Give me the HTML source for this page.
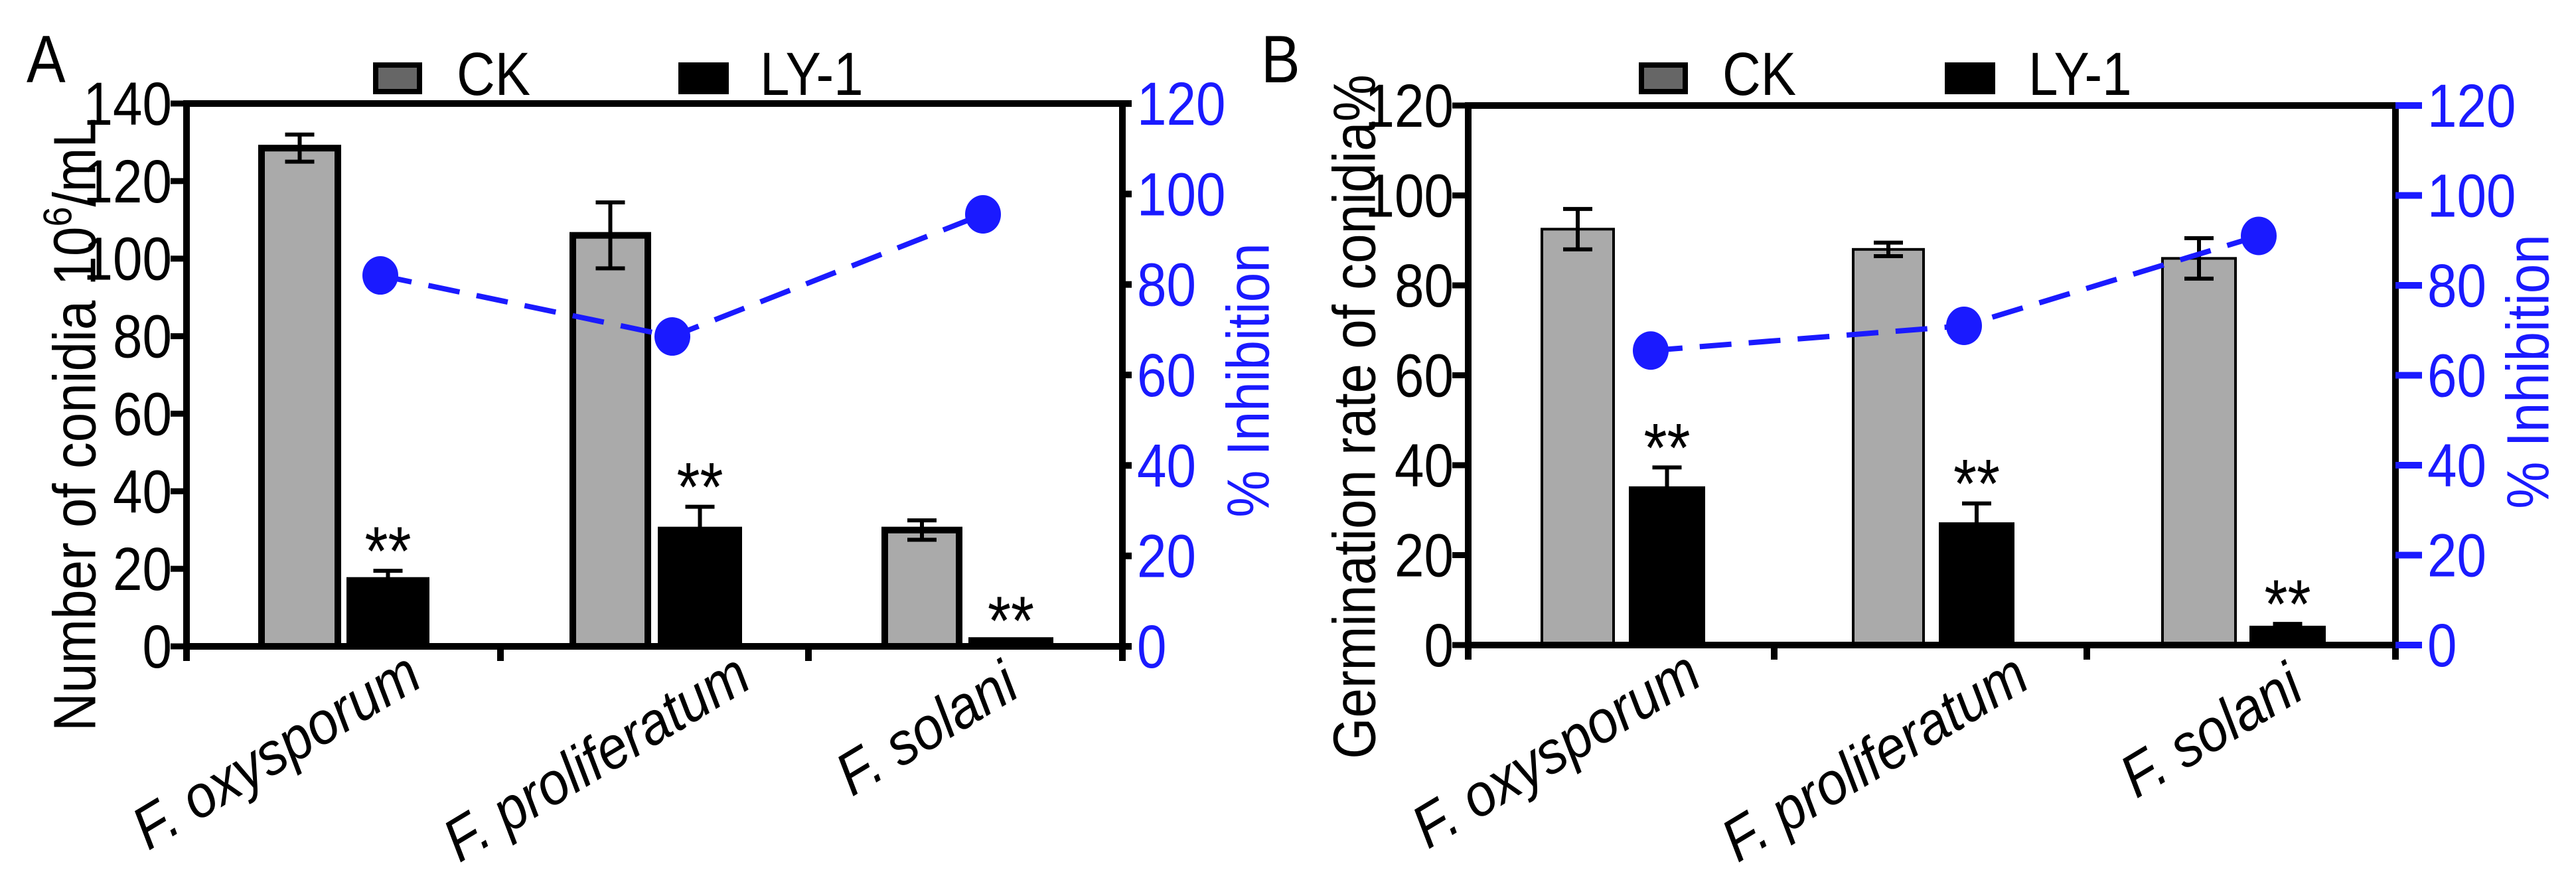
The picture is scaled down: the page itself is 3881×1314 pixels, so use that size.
<!DOCTYPE html>
<html><head><meta charset="utf-8"><style>
html,body{margin:0;padding:0;background:#fff;}
svg{display:block;font-family:"Liberation Sans",sans-serif;}
</style></head><body>
<svg id="fig" width="3881" height="1314" viewBox="0 0 3881 1314" xmlns="http://www.w3.org/2000/svg"></svg>
<script>
const categories = ["F. oxysporum", "F. proliferatum", "F. solani"];
const ckA = [128.5, 106, 30];
const ckErrA = [3.5, 8.5, 2.5];
const lyA = [17, 30, 1.5];
const lyErrA = [2.5, 6, 0];
const inhA = [82, 68.5, 95.5];
const ckB = [92.5, 88, 86];
const ckErrB = [4.5, 1.5, 4.5];
const lyB = [35, 27, 4];
const lyErrB = [4.5, 4.5, 0.7];
const inhB = [65.5, 71, 91];
const ticksA = [0, 20, 40, 60, 80, 100, 120, 140];
const ticksR = [0, 20, 40, 60, 80, 100, 120];
const ticksB = [0, 20, 40, 60, 80, 100, 120];

const NS = "http://www.w3.org/2000/svg";
const svg = document.getElementById("fig");
const SY = 1.15;
function mk(tag, attrs, parent, text) {
  const e = document.createElementNS(NS, tag);
  for (const k in attrs) e.setAttribute(k, attrs[k]);
  if (text !== undefined) e.textContent = text;
  (parent || svg).appendChild(e);
  return e;
}
function txt(x, y, attrs, parent, text) {
  const a = Object.assign({x: 0, y: 0}, attrs);
  a.transform = `translate(${x} ${y}) scale(1 ${SY})`;
  return mk("text", a, parent, text);
}

function panel(cfg) {
  const g = mk("g", {});
  
  
  const {x0, x1, yTop, yZero, lmax, rmax} = cfg;
  const yL = v => yZero - v / lmax * (yZero - yTop);
  const yR = v => yZero - v / rmax * (yZero - yTop);
  categories.forEach((c, i) => {
    const ck = cfg.bars.ck[i], ly = cfg.bars.ly[i];
    const cx = (ck[0] + ck[1]) / 2;
    const bar = mk("rect", {x: ck[0], y: yL(cfg.ck[i]), width: ck[1] - ck[0], height: yZero - yL(cfg.ck[i]), fill: "#aaaaaa", stroke: "#000", "stroke-width": cfg.bw}, g);
    
    
    const e1 = mk("g", {stroke: "#000", "stroke-width": 6}, g);
    
    
    const t = yL(cfg.ck[i] + cfg.ckErr[i]), b = yL(cfg.ck[i] - cfg.ckErr[i]);
    mk("line", {x1: cx, x2: cx, y1: t, y2: b}, e1);
    mk("line", {x1: cx - 22, x2: cx + 22, y1: t, y2: t}, e1);
    mk("line", {x1: cx - 22, x2: cx + 22, y1: b, y2: b}, e1);
    const lx = (ly[0] + ly[1]) / 2;
    const e2 = mk("g", {stroke: "#000", "stroke-width": 6}, g);
    
    
    const t2 = yL(cfg.ly[i] + cfg.lyErr[i]);
    mk("line", {x1: lx, x2: lx, y1: t2, y2: yL(cfg.ly[i])}, e2);
    mk("line", {x1: lx - 22, x2: lx + 22, y1: t2, y2: t2}, e2);
    const bar2 = mk("rect", {x: ly[0], y: yL(cfg.ly[i]), width: ly[1] - ly[0], height: yZero - yL(cfg.ly[i]), fill: "#000", stroke: "#000", "stroke-width": cfg.bw}, g);
    
    
    const st = txt(lx, t2 + 6, {"font-size": 90, "text-anchor": "middle"}, g, "**");
    
    
  });
  const pts = cfg.inh.map((v, i) => cfg.dots[i] + "," + yR(v)).join(" ");
  const pl = mk("polyline", {points: pts, fill: "none", stroke: "#1a1aff", "stroke-width": 8, "stroke-dasharray": "48 26"}, g);
  
  
  cfg.inh.forEach((v, i) => {
    const d = mk("ellipse", {cx: cfg.dots[i], cy: yR(v), rx: 27, ry: 29, fill: "#1a1aff"}, g);
    
    
  });
  const ax = mk("g", {stroke: "#000", "stroke-width": 10, fill: "none"}, g);
  
  
  mk("line", {x1: x0 - 5, x2: x1 + 5, y1: yTop, y2: yTop}, ax);
  mk("line", {x1: x0 - 5, x2: x1 + 5, y1: yZero, y2: yZero}, ax);
  mk("line", {x1: x0, x2: x0, y1: yTop, y2: yZero + 22}, ax);
  mk("line", {x1: x1, x2: x1, y1: yTop, y2: yZero + 22}, ax);
  cfg.catTicks.forEach(x => mk("line", {x1: x, x2: x, y1: yZero, y2: yZero + 22}, ax));
  cfg.lticks.forEach(v => {
    mk("line", {x1: x0 - 24, x2: x0, y1: yL(v), y2: yL(v), stroke: "#000", "stroke-width": 9}, g);
    const tl = txt(x0 - 22, yL(v) + 32, {"font-size": 80, "text-anchor": "end"}, g, String(v));
    
    
  });
  ticksR.forEach(v => {
    mk("line", {x1: x1, x2: x1 + cfg.rtickLen, y1: yR(v), y2: yR(v), stroke: cfg.rtickColor, "stroke-width": 10}, g);
    const tr = txt(x1 + cfg.rtickLen + 8, yR(v) + 32, {"font-size": 80, fill: "#1a1aff"}, g, String(v));
    
    
  });
  categories.forEach((c, i) => {
    const [ex, ey] = cfg.xlab[i];
    const xl = mk("text", {x: 0, y: 0, "font-size": 82, "font-style": "italic", "text-anchor": "end",
      transform: `translate(${ex} ${ey}) rotate(-31) scale(1 1.1)`}, g, c);
    
    
  });
  const yt = mk("text", {x: 0, y: 0, "font-size": 80, "text-anchor": "middle", transform: `translate(${cfg.ytitle[0]} ${cfg.ytitle[1]}) rotate(-90) scale(1 1.12)`, dy: 28}, g);
  
  
  if (cfg.sup) {
    yt.appendChild(document.createTextNode("Number of conidia 10"));
    mk("tspan", {"font-size": 54, dy: -32}, yt, "6");
    mk("tspan", {dy: 32}, yt, "/mL");
  } else yt.textContent = cfg.ytext;
  const rt = mk("text", {x: 0, y: 0, "font-size": 80, fill: "#1a1aff", "text-anchor": "middle", transform: `translate(${cfg.rtitle[0]} ${cfg.rtitle[1]}) rotate(-90) scale(1 1.12)`, dy: 28}, g, "% Inhibition");
  
  
  const lg = mk("g", {}, g);
  
  
  mk("rect", {x: cfg.leg[0], y: 98, width: 66, height: 40, fill: "#666", stroke: "#000", "stroke-width": 8}, lg);
  txt(cfg.leg[1], 143, {"font-size": 80}, lg, "CK");
  mk("rect", {x: cfg.leg[2], y: 94, width: 76, height: 48, fill: "#000"}, lg);
  txt(cfg.leg[3], 143, {"font-size": 80}, lg, "LY-1");
  const pl2 = txt(cfg.letter[0], 124, {"font-size": 88}, g, cfg.letter[1]);
  
  
}

panel({name: "panel-a", x0: 281, x1: 1691, yTop: 156, yZero: 974, lmax: 140, rmax: 120,
  ck: ckA, ckErr: ckErrA, ly: lyA, lyErr: lyErrA, inh: inhA, bw: 10,
  bars: {ck: [[394, 509], [863, 976], [1333, 1445]], ly: [[527, 642], [996, 1113], [1464, 1582]]},
  dots: [573, 1013, 1481], catTicks: [754, 1218], lticks: ticksA,
  rtickLen: 14, rtickColor: "#000",
  xlab: [[640, 1032], [1136, 1034], [1540, 1047]],
  ytitle: [112, 640], sup: true, rtitle: [1880, 573],
  leg: [566, 688, 1022, 1145], letter: [40, "A"]});

panel({name: "panel-b", x0: 2212, x1: 3609, yTop: 159, yZero: 972, lmax: 120, rmax: 120,
  ck: ckB, ckErr: ckErrB, ly: lyB, lyErr: lyErrB, inh: inhB, bw: 4,
  bars: {ck: [[2323, 2431], [2792, 2898], [3258, 3368]], ly: [[2456, 2567], [2923, 3033], [3391, 3502]]},
  dots: [2487, 2959, 3403], catTicks: [2673, 3144], lticks: ticksB,
  rtickLen: 40, rtickColor: "#1a1aff",
  xlab: [[2568, 1030], [3062, 1034], [3475, 1050]],
  ytitle: [2040, 628], sup: false, ytext: "Germination rate of conidia%", rtitle: [3808, 560],
  leg: [2473, 2595, 2930, 3056], letter: [1900, "B"]});
</script>
</body></html>
